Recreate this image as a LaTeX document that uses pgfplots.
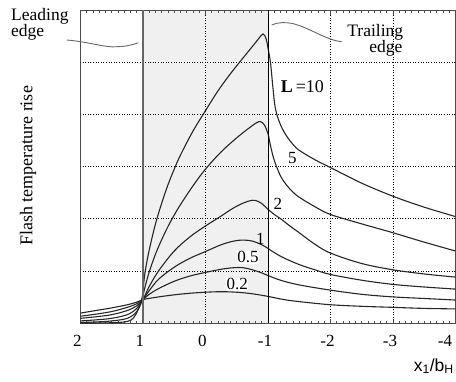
\documentclass[border=0pt]{standalone}
\usepackage{pgfplots}
\pgfplotsset{compat=1.18}
\usepackage{fontspec}
\setmainfont{Liberation Serif}
\newfontfamily\sansf{Liberation Sans}

\begin{document}
\begin{tikzpicture}
\fill[black!6] (62.5pt,0pt) rectangle (187.5pt,313pt);
\begin{axis}[
  scale only axis, width=375pt, height=313pt,
  x dir=reverse,
  xmin=-4, xmax=2, ymin=0, ymax=6,
  xtick={-4,-3,-2,-1,0,1,2},
  xticklabels={-4\hspace*{15pt},-3,-2,-1,0,1,2},
  minor x tick num=9,
  ytick={1,2,3,4,5}, yticklabels={},
  ytick style={draw=none},
  x tick style={black!70, line width=0.5pt},
  major tick length=4.5pt, minor tick length=2.5pt,
  ymajorgrids, xmajorgrids,
  major grid style={black, line width=0.6pt, dash pattern=on 1pt off 1.6pt},
  axis line style={draw=black!70, line width=0.8pt},
  xticklabel style={font=\fontsize{17}{17}\selectfont, yshift=-9pt, xshift=-3pt},
]
% L = 0.2
\addplot[smooth, tension=0.55, line width=1.1pt, black!85] coordinates {
(2,0.19) (1.75,0.24) (1.5,0.29) (1.25,0.35) (1.1,0.40) (1.0,0.45) (0.75,0.50)
(0.5,0.54) (0.25,0.57) (0,0.59) (-0.25,0.60) (-0.5,0.59) (-0.75,0.56) (-1.0,0.51)
(-1.25,0.45) (-1.5,0.41) (-2,0.35) (-2.5,0.32) (-3,0.30) (-3.5,0.28) (-4,0.27)};
% L = 0.5
\addplot[smooth, tension=0.55, line width=1.1pt, black!85] coordinates {
(2,0.13) (1.75,0.17) (1.5,0.22) (1.25,0.30) (1.1,0.37) (1.0,0.45) (0.9,0.55)
(0.75,0.66) (0.5,0.80) (0.25,0.90) (0,0.97) (-0.25,1.03) (-0.45,1.06) (-0.6,1.06)
(-0.75,1.02) (-0.9,0.96) (-1.0,0.91) (-1.2,0.82) (-1.5,0.73) (-2,0.63) (-2.5,0.55)
(-3,0.50) (-3.5,0.47) (-4,0.44)};
% L = 1
\addplot[smooth, tension=0.55, line width=1.1pt, black!85] coordinates {
(2,0.09) (1.75,0.12) (1.5,0.16) (1.25,0.24) (1.1,0.33) (1.0,0.45) (0.9,0.62)
(0.75,0.84) (0.5,1.07) (0.25,1.24) (0,1.37) (-0.25,1.50) (-0.45,1.57) (-0.6,1.59)
(-0.75,1.57) (-0.9,1.50) (-1.0,1.43) (-1.1,1.35) (-1.25,1.25) (-1.5,1.12)
(-1.75,1.02) (-2,0.93) (-2.5,0.82) (-3,0.74) (-3.5,0.69) (-4,0.65)};
% L = 2
\addplot[smooth, tension=0.55, line width=1.1pt, black!85] coordinates {
(2,0.04) (1.75,0.06) (1.5,0.09) (1.25,0.16) (1.1,0.28) (1.0,0.45) (0.9,0.70)
(0.75,1.00) (0.5,1.38) (0.25,1.65) (0,1.86) (-0.25,2.05) (-0.4,2.17) (-0.55,2.27)
(-0.7,2.34) (-0.8,2.35) (-0.9,2.29) (-1.0,2.18) (-1.1,2.08) (-1.2,2.00)
(-1.35,1.86) (-1.5,1.73) (-1.75,1.51) (-2,1.34) (-2.5,1.14) (-3,1.02) (-3.5,0.94) (-4,0.88)};
% L = 5
\addplot[smooth, tension=0.55, line width=1.1pt, black!85] coordinates {
(2,0.01) (1.75,0.02) (1.5,0.04) (1.25,0.09) (1.1,0.22) (1.02,0.44) (0.97,0.68)
(0.9,0.98) (0.8,1.32) (0.7,1.6) (0.6,1.85) (0.5,2.07) (0.4,2.27) (0.2,2.63)
(0,2.95) (-0.25,3.28) (-0.5,3.55) (-0.7,3.74) (-0.82,3.84) (-0.88,3.86)
(-0.94,3.80) (-1.0,3.63) (-1.04,3.40) (-1.1,3.12) (-1.2,2.82) (-1.3,2.64)
(-1.4,2.51) (-1.5,2.41) (-1.75,2.23) (-2,2.08) (-2.5,1.90) (-3,1.73) (-3.5,1.55) (-4,1.38)};
% L = 10
\addplot[smooth, tension=0.55, line width=1.1pt, black!85] coordinates {
(2,0.0) (1.5,0.005) (1.25,0.03) (1.15,0.10) (1.08,0.25) (1.02,0.44) (0.97,0.95)
(0.9,1.4) (0.8,1.9) (0.7,2.3) (0.6,2.65) (0.5,2.95) (0.4,3.22) (0.2,3.68)
(0,4.07) (-0.2,4.45) (-0.4,4.78) (-0.6,5.08) (-0.75,5.3) (-0.85,5.45) (-0.92,5.54)
(-0.97,5.45) (-1.0,5.27) (-1.04,4.99) (-1.08,4.5) (-1.12,4.1) (-1.2,3.8)
(-1.3,3.58) (-1.41,3.41) (-1.5,3.31) (-1.75,3.13) (-2,2.98) (-2.5,2.68)
(-3,2.43) (-3.5,2.22) (-4,2.04)};

\draw[black!60, line width=1.3pt] (axis cs:1,0) -- (axis cs:1,6);
\draw[black, line width=0.9pt] (axis cs:-1,0) -- (axis cs:-1,6);

\node[font=\fontsize{18}{18}\selectfont] at (axis cs:-1.55,4.54) {{\bfseries L}\,=10};
\node[font=\fontsize{17}{17}\selectfont, inner sep=1pt] at (axis cs:-1.39,3.16) {5};
\node[font=\fontsize{17}{17}\selectfont, inner sep=1pt] at (axis cs:-1.16,2.28) {2};
\node[font=\fontsize{17}{17}\selectfont, inner sep=1pt] at (axis cs:-0.88,1.62) {1};
\node[font=\fontsize{17}{17}\selectfont, fill=white, inner sep=0.5pt] at (axis cs:-0.68,1.26) {0.5};
\node[font=\fontsize{17}{17}\selectfont, fill=white, inner sep=0.5pt] at (axis cs:-0.51,0.74) {0.2};
\end{axis}

% annotations
\node[anchor=base west, inner sep=0, font=\fontsize{17.5}{17.5}\selectfont] at (-69.5pt,302.5pt) {Leading};
\node[anchor=base west, inner sep=0, font=\fontsize{17.5}{17.5}\selectfont] at (-69.5pt,286pt) {edge};
\draw[black!60, line width=0.9pt] (-13.8pt,283pt) .. controls (10pt,281pt) and (25pt,275pt) .. (36.2pt,276.3pt)
  .. controls (45pt,276.5pt) and (52pt,278pt) .. (57.8pt,280.3pt);

\node[anchor=base east, inner sep=0, font=\fontsize{17.5}{17.5}\selectfont] at (322.8pt,286.5pt) {Trailing};
\node[anchor=base east, inner sep=0, font=\fontsize{17.5}{17.5}\selectfont] at (322.2pt,270.5pt) {edge};
\draw[black!60, line width=0.9pt] (191.2pt,298pt) .. controls (198pt,301pt) and (205pt,300.8pt) .. (212pt,299.5pt)
  .. controls (230pt,295pt) and (245pt,283pt) .. (261.2pt,281.3pt);

\node[rotate=90, font=\fontsize{18}{18}\selectfont] at (-52.5pt,157pt) {Flash temperature rise};
\node[anchor=base east, inner sep=0, font=\sansf\fontsize{17.5}{17.5}\selectfont] at (373.5pt,-48.3pt) {x\textsubscript{1}/b\textsubscript{H}};
\pgfresetboundingbox
\path[use as bounding box] (-80.5pt,-58pt) rectangle (375.5pt,323pt);
\end{tikzpicture}
\end{document}
